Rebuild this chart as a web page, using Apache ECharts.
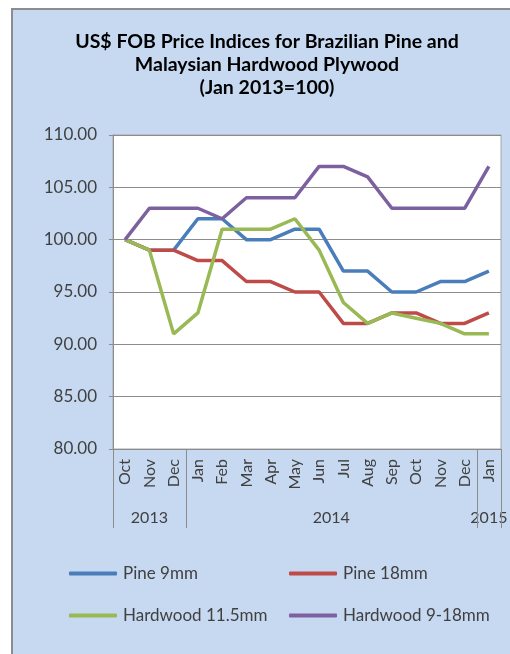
<!DOCTYPE html>
<html>
<head>
<meta charset="utf-8">
<script src="https://cdn.jsdelivr.net/npm/echarts@6/dist/echarts.min.js"></script>
<style>
  html, body { margin: 0; padding: 0; background: #fff; }
  #bg { position: absolute; left: 11px; top: 8px; width: 499px; height: 646px;
        background: #c6d9f1; border-left: 2px solid #8c8c8c; border-top: 2px solid #8c8c8c; box-sizing: border-box; }
  #main { position: absolute; left: 0; top: 0; width: 510px; height: 654px; }
</style>
</head>
<body>
<div id="bg"></div>
<div id="main"></div>
<script>
// months Oct 2013 .. Jan 2015
const months = ['Oct', 'Nov', 'Dec', 'Jan', 'Feb', 'Mar', 'Apr', 'May', 'Jun', 'Jul', 'Aug', 'Sep', 'Oct', 'Nov', 'Dec', 'Jan'];
const years = [
  { label: '2013', from: 0, to: 2 },
  { label: '2014', from: 3, to: 14 },
  { label: '2015', from: 15, to: 15 }
];
const pine9 = [100, 99, 99, 102, 102, 100, 100, 101, 101, 97, 97, 95, 95, 96, 96, 97];
const pine18 = [100, 99, 99, 98, 98, 96, 96, 95, 95, 92, 92, 93, 93, 92, 92, 93];
const hard115 = [100, 99, 91, 93, 101, 101, 101, 102, 99, 94, 92, 93, 92.5, 92, 91, 91];
const hard918 = [100, 103, 103, 103, 102, 104, 104, 104, 107, 107, 106, 103, 103, 103, 103, 107];
const yTicks = [80, 85, 90, 95, 100, 105, 110];

const font = 'Lato, "Open Sans", sans-serif';
const txt = '#404040';

function line(name, data, color) {
  return {
    name: name, type: 'line', data: data, symbol: 'none',
    lineStyle: { color: color, width: 3.5 }, itemStyle: { color: color }
  };
}

function legend(name, left, top) {
  return {
    data: [name], left: left, top: top, icon: 'roundRect', padding: 0,
    itemWidth: 48, itemHeight: 4, itemGap: 0,
    textStyle: { fontFamily: font, fontSize: 17, color: txt, padding: [0, 0, 0, 1] }
  };
}

let chart = echarts.init(document.getElementById('main'));
chart.setOption({
  animation: false,
  backgroundColor: 'transparent',
  title: {
    text: 'US$ FOB Price Indices for Brazilian Pine and\nMalaysian Hardwood Plywood\n(Jan 2013=100)',
    left: 267, top: 30, padding: 0, textAlign: 'center',
    textStyle: { fontFamily: font, fontSize: 19.5, fontWeight: 'bold', color: '#000', lineHeight: 23 }
  },
  legend: [
    legend('Pine 9mm', 69, 565),
    legend('Pine 18mm', 289, 565),
    legend('Hardwood 11.5mm', 69, 607),
    legend('Hardwood 9-18mm', 289, 607)
  ],
  grid: {
    left: 113, top: 135, right: 9, bottom: 205,
    show: true, backgroundColor: '#fff', borderColor: '#a6a6a6', borderWidth: 1
  },
  xAxis: {
    type: 'category', data: months, boundaryGap: true,
    axisLine: { lineStyle: { color: '#8c8c8c' } },
    axisTick: { show: false },
    axisLabel: { rotate: 90, interval: 0, margin: 10, fontFamily: font, fontSize: 16, color: txt }
  },
  yAxis: {
    type: 'value', min: yTicks[0], max: yTicks[yTicks.length - 1], interval: 5,
    axisLine: { show: true, lineStyle: { color: '#8c8c8c' } },
    axisTick: { show: true, length: 4, lineStyle: { color: '#8c8c8c' } },
    splitLine: { lineStyle: { color: '#8c8c8c' } },
    axisLabel: { formatter: v => v.toFixed(2), margin: 16, fontFamily: font, fontSize: 17, color: txt }
  },
  series: [
    line('Pine 9mm', pine9, '#4a7ebb'),
    line('Pine 18mm', pine18, '#be4b48'),
    line('Hardwood 11.5mm', hard115, '#98b954'),
    line('Hardwood 9-18mm', hard918, '#7d60a0')
  ]
});

// year grouping row under the month labels
const y0 = chart.convertToPixel({ yAxisIndex: 0 }, yTicks[0]);
const step = chart.convertToPixel({ xAxisIndex: 0 }, 1) - chart.convertToPixel({ xAxisIndex: 0 }, 0);
const graphics = [];
const bounds = new Set();
years.forEach(g => {
  const xa = chart.convertToPixel({ xAxisIndex: 0 }, g.from) - step / 2;
  const xb = chart.convertToPixel({ xAxisIndex: 0 }, g.to) + step / 2;
  bounds.add(Math.round(xa)); bounds.add(Math.round(xb));
  graphics.push({
    type: 'text', x: (xa + xb) / 2, y: y0 + 69,
    style: { text: g.label, fontFamily: font, fontSize: 16, fill: txt, align: 'center', verticalAlign: 'middle' }
  });
});
bounds.forEach(x => {
  graphics.push({
    type: 'line', shape: { x1: x + 0.5, y1: y0, x2: x + 0.5, y2: y0 + 79 },
    style: { stroke: '#8c8c8c', lineWidth: 1 }
  });
});
chart.setOption({ graphic: graphics });
</script>
</body>
</html>
